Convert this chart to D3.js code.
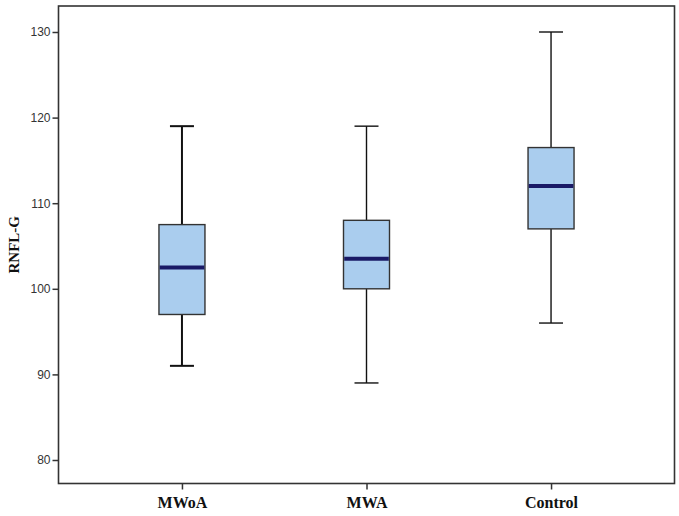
<!DOCTYPE html>
<html>
<head>
<meta charset="utf-8">
<script src="https://cdn.jsdelivr.net/npm/d3@7"></script>
<style>
  html, body { margin: 0; padding: 0; background: #fff; }
  svg { display: block; }
</style>
</head>
<body>
<svg id="chart" width="679" height="516"></svg>
<script>
const categories = ["MWoA", "MWA", "Control"];
const whiskerHigh = [119, 119, 130];
const q3Values = [107.5, 108, 116.5];
const medians = [102.5, 103.5, 112];
const q1Values = [97, 100, 107];
const whiskerLow = [91, 89, 96];
const yTicks = [80, 90, 100, 110, 120, 130];
const yLabel = "RNFL-G";

const svg = d3.select("#chart");
const plotLeft = 58.5, plotRight = 674.5, plotTop = 6, plotBottom = 483.5;

const y = d3.scaleLinear().domain([80, 130]).range([460, 32]);
const x = d3.scalePoint().domain(categories).range([plotLeft, plotRight]).padding(0.669);

// frame
svg.append("rect")
  .attr("x", plotLeft).attr("y", plotTop)
  .attr("width", plotRight - plotLeft).attr("height", plotBottom - plotTop)
  .attr("fill", "none").attr("stroke", "#333").attr("stroke-width", 1.6);

// y axis
const yAxis = svg.append("g")
  .attr("transform", `translate(${plotLeft},0)`)
  .call(d3.axisLeft(y).tickValues(yTicks).tickSize(6).tickPadding(2));
yAxis.select(".domain").remove();
yAxis.selectAll(".tick line").attr("stroke", "#333").attr("stroke-width", 1.5);
yAxis.selectAll(".tick text")
  .attr("fill", "#333")
  .style("font-family", "Arial, 'Liberation Sans', sans-serif")
  .style("font-size", "12px");

// x axis
const xAxis = svg.append("g")
  .attr("transform", `translate(0,${plotBottom})`)
  .call(d3.axisBottom(x).tickSize(6).tickPadding(7));
xAxis.select(".domain").remove();
xAxis.selectAll(".tick line").attr("stroke", "#333").attr("stroke-width", 1.5);
xAxis.selectAll(".tick text")
  .attr("fill", "#111")
  .style("font-family", "'Liberation Serif', 'Times New Roman', serif")
  .style("font-weight", "bold")
  .style("font-size", "16px");

// y label
svg.append("text")
  .attr("transform", `translate(19,${(plotTop + plotBottom) / 2}) rotate(-90)`)
  .attr("text-anchor", "middle")
  .attr("fill", "#111")
  .style("font-family", "'Liberation Serif', 'Times New Roman', serif")
  .style("font-weight", "bold")
  .style("font-size", "15px")
  .text(yLabel);

const data = categories.map((c, i) => ({
  c, hi: whiskerHigh[i], q3: q3Values[i], med: medians[i], q1: q1Values[i], lo: whiskerLow[i],
  w: i === 0 ? 2 : 1.4
}));

const boxW = 46, capW = 24;
const g = svg.selectAll(".box").data(data).join("g").attr("class", "box");

// whiskers
g.append("line")
  .attr("x1", d => x(d.c)).attr("x2", d => x(d.c))
  .attr("y1", d => y(d.hi)).attr("y2", d => y(d.q3))
  .attr("stroke", "#111").attr("stroke-width", d => d.w);
g.append("line")
  .attr("x1", d => x(d.c)).attr("x2", d => x(d.c))
  .attr("y1", d => y(d.q1)).attr("y2", d => y(d.lo))
  .attr("stroke", "#111").attr("stroke-width", d => d.w);
// caps
g.append("line")
  .attr("x1", d => x(d.c) - capW / 2).attr("x2", d => x(d.c) + capW / 2)
  .attr("y1", d => y(d.hi)).attr("y2", d => y(d.hi))
  .attr("stroke", "#111").attr("stroke-width", d => d.w);
g.append("line")
  .attr("x1", d => x(d.c) - capW / 2).attr("x2", d => x(d.c) + capW / 2)
  .attr("y1", d => y(d.lo)).attr("y2", d => y(d.lo))
  .attr("stroke", "#111").attr("stroke-width", d => d.w);
// box
g.append("rect")
  .attr("x", d => x(d.c) - boxW / 2)
  .attr("y", d => y(d.q3))
  .attr("width", boxW)
  .attr("height", d => y(d.q1) - y(d.q3))
  .attr("fill", "#aacdee")
  .attr("stroke", "#333").attr("stroke-width", 1.4);
// median
g.append("line")
  .attr("x1", d => x(d.c) - boxW / 2 + 0.7).attr("x2", d => x(d.c) + boxW / 2 - 0.7)
  .attr("y1", d => y(d.med)).attr("y2", d => y(d.med))
  .attr("stroke", "#1a1a66").attr("stroke-width", 4);
</script>
</body>
</html>
